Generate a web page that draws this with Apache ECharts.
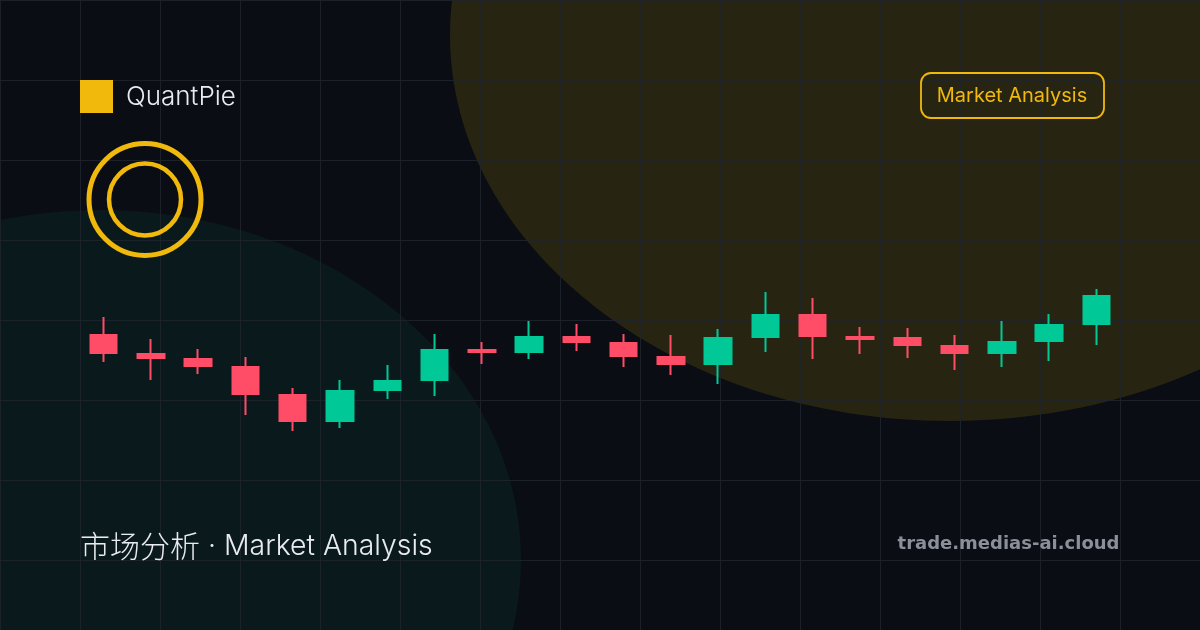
<!DOCTYPE html>
<html><head><meta charset="utf-8">
<style>html,body{margin:0;padding:0;background:#0a0d14}#c{width:1200px;height:630px}</style>
<script src="https://cdn.jsdelivr.net/npm/echarts@6/dist/echarts.min.js"></script>
</head><body><div id="c"></div>
<script>
var brand = 'QuantPie';
var badge = 'Market Analysis';
var titleZh = '市场分析';
var titleEn = ' · Market Analysis';
var site = 'trade.medias-ai.cloud';
var categories = ['1','2','3','4','5','6','7','8','9','10','11','12','13','14','15','16','17','18','19','20','21','22'];
var opens  = [105,86,81,73,45,19,50,60,90,88,103,97,83,76,103,125,103,102,94,87,99,116];
var closes = [87,82,74,46,19,49,59,90,88,103,98,84,76,102,125,104,101,95,87,98,115,144];
var lows   = [78,60,66,25,9,12,41,44,76,81,89,73,65,56,88,81,86,82,70,73,79,95];
var highs  = [123,101,91,83,52,60,75,106,98,119,116,106,105,111,148,142,113,112,105,119,126,151];
var gridLinesX = 1200, gridLinesY = 630, gridStep = 80;

var chart = echarts.init(document.getElementById('c'), null, {renderer:'canvas', width:1200, height:630});
var ohlc = categories.map(function(c,i){return [opens[i],closes[i],lows[i],highs[i]];});
var gridStyle = {color:'rgba(32,36,44,0.85)',width:1};
var FONT = 'Inter, "Noto Sans CJK SC", sans-serif';
chart.setOption({
  animation:false,
  backgroundColor:'#0a0d14',
  grid:[
    {left:0,right:0,top:0,bottom:0,z:1},
    {left:80,width:1040,top:280,height:160,z:3}
  ],
  xAxis:[
    {type:'value',gridIndex:0,min:0,max:gridLinesX,interval:gridStep,axisLine:{show:false},axisTick:{show:false},axisLabel:{show:false},splitLine:{show:true,lineStyle:gridStyle},z:1},
    {type:'category',gridIndex:1,data:categories,boundaryGap:true,axisLine:{show:false},axisTick:{show:false},axisLabel:{show:false},splitLine:{show:false}}
  ],
  yAxis:[
    {type:'value',gridIndex:0,inverse:true,min:0,max:gridLinesY,interval:gridStep,axisLine:{show:false},axisTick:{show:false},axisLabel:{show:false},splitLine:{show:true,lineStyle:gridStyle},z:1},
    {type:'value',gridIndex:1,min:0,max:160,axisLine:{show:false},axisTick:{show:false},axisLabel:{show:false},splitLine:{show:false}}
  ],
  series:[{
    type:'candlestick',xAxisIndex:1,yAxisIndex:1,data:ohlc,barWidth:27,z:5,
    itemStyle:{color:'#00c896',color0:'#ff4d67',borderColor:'#00c896',borderColor0:'#ff4d67',borderWidth:2}
  }],
  graphic:{elements:[
    {type:'ellipse',z:-10,silent:true,shape:{cx:100,cy:560,rx:421,ry:350},style:{fill:'rgba(0,200,150,0.065)'}},
    {type:'ellipse',z:-10,silent:true,shape:{cx:950,cy:35,rx:500,ry:386},style:{fill:'rgba(240,185,11,0.135)'}},
    {type:'rect',z:10,shape:{x:80,y:80,width:33,height:33},style:{fill:'#f0b90b'}},
    {type:'text',z:10,x:126,y:97,style:{text:brand,fill:'#e8ebf0',font:'300 26px '+FONT,textVerticalAlign:'middle'}},
    {type:'circle',z:10,shape:{cx:145,cy:199.5,r:56},style:{fill:'none',stroke:'#f0b90b',lineWidth:5}},
    {type:'circle',z:10,shape:{cx:145,cy:199.5,r:36},style:{fill:'none',stroke:'#f0b90b',lineWidth:4.5}},
    {type:'rect',z:10,shape:{x:921,y:73,width:183,height:45,r:10},style:{fill:'none',stroke:'#f0b90b',lineWidth:1.8}},
    {type:'text',z:10,x:1012,y:96,style:{text:badge,fill:'#f0b90b',font:'400 20px '+FONT,textAlign:'center',textVerticalAlign:'middle'}},
    {type:'text',z:10,x:80,y:546,style:{
      text:'{zh|'+titleZh+'}{en|'+titleEn+'}',
      fill:'#e8ebf0',textVerticalAlign:'middle',
      rich:{zh:{font:'300 30px "Noto Sans CJK SC"',fill:'#e8ebf0'},en:{font:'300 28.4px Inter',fill:'#e8ebf0'}}
    }},
    {type:'text',z:10,x:1119.5,y:544,style:{text:site,fill:'#8a8f99',font:'bold 18px "DejaVu Sans"',textAlign:'right',textVerticalAlign:'middle'}}
  ]}
});
</script></body></html>
